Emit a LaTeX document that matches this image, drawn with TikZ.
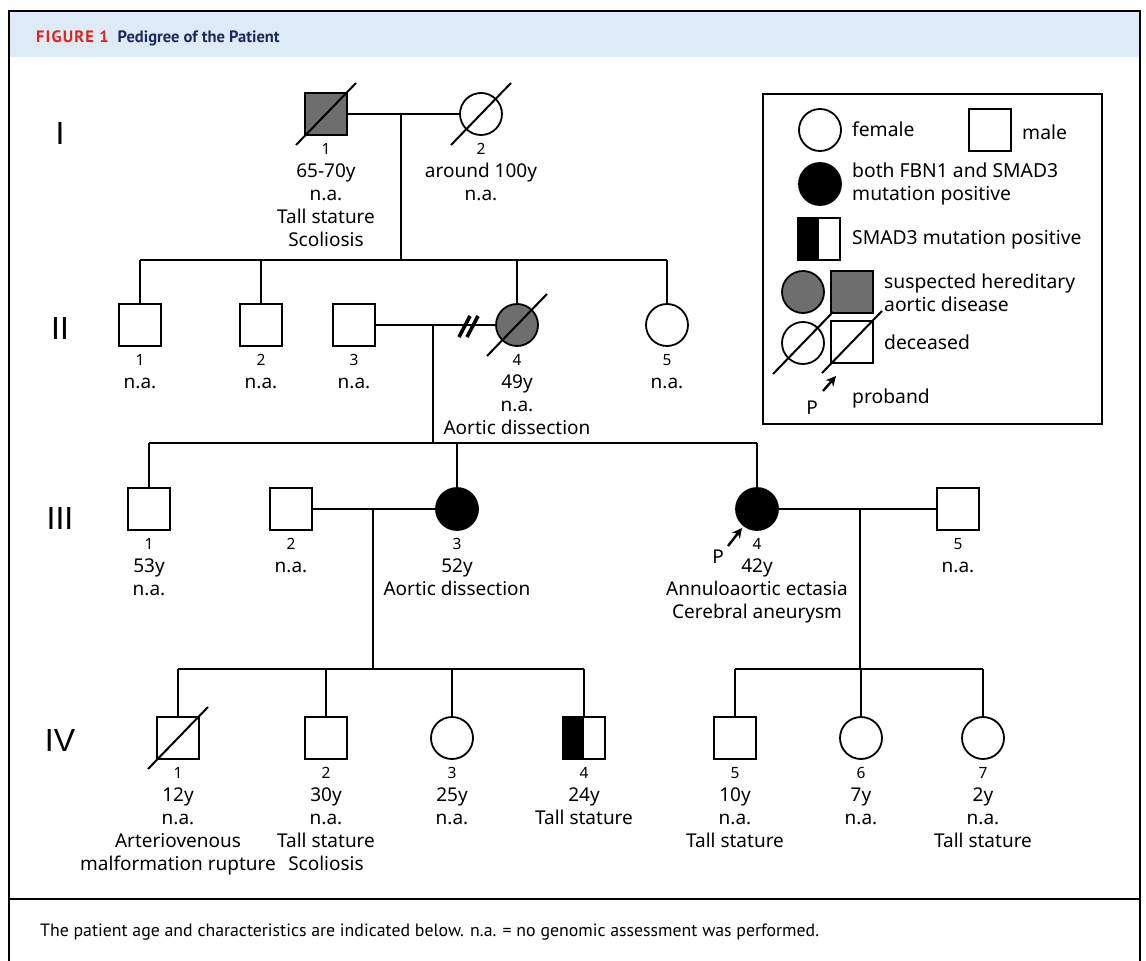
\documentclass[tikz,border=0pt]{standalone}
\usepackage{fontspec}
\setmainfont{Noto Sans}
\newfontfamily\headfont{PT Sans}
\newfontfamily\capfont{PT Sans}
\newfontfamily\genfont{Liberation Sans}
\usetikzlibrary{positioning,arrows.meta}
\definecolor{suspgray}{HTML}{6E6E6E}
\definecolor{headblue}{HTML}{DEEAF6}
\definecolor{figred}{HTML}{E2231A}
\definecolor{navy}{HTML}{1B2A5C}
\newcommand{\deceased}[1]{\draw[line width=2pt] ([shift={(-30,31)}]#1.center) -- ([shift={(30,-31)}]#1.center);}
\newcommand{\info}[3]{\node[info, below=7pt of #1] (#1-info) {{\fontsize{15.5}{15}\selectfont #2}\\#3};}
\tikzset{
  male/.style={draw, rectangle, minimum size=42pt, inner sep=0pt, line width=1.8pt},
  female/.style={draw, circle, minimum size=42pt, inner sep=0pt, line width=1.8pt},
  affected/.style={fill=black},
  suspected/.style={fill=suspgray},
  smad/.style={path picture={\fill[black] (path picture bounding box.north west) rectangle (path picture bounding box.south);}},
  line/.style={line width=2.2pt},
  info/.style={align=center, inner sep=0pt, font=\fontsize{19}{23}\selectfont},
  gen/.style={font=\genfont\fontsize{32}{32}\selectfont},
  legtext/.style={anchor=west, align=left, inner sep=0pt, font=\fontsize{19.3}{23}\selectfont},
  proband/.style={line width=2.4pt, -{Stealth[length=10pt,width=10pt]}}
}
\begin{document}
\begin{tikzpicture}[x=1pt, y=-1pt]
\useasboundingbox (0,0) rectangle (1146,961);
\fill[white] (0,0) rectangle (1146,961);
\fill[headblue] (10,12) rectangle (1139,57);
\draw[line width=2pt] (9,961) -- (9,11) -- (1140,11) -- (1140,961);
\draw[line width=2pt] (9,899) -- (1140,899);
\node[anchor=base west, inner sep=0pt, font=\headfont\bfseries\fontsize{16.5}{18}\selectfont] (title) at (36,42)
  {{\color{figred}\addfontfeature{LetterSpace=7}FIGURE 1}\hspace{9pt}{\color{navy}Pedigree of the Patient}};
\node[anchor=base west, inner sep=0pt, font=\capfont\fontsize{17.8}{20}\selectfont] (caption) at (40,936)
  {The patient age and characteristics are indicated below. n.a. = no genomic assessment was performed.};

\node[gen] (g1) at (60,133) {I};
\node[gen] (g2) at (60,328) {II};
\node[gen] (g3) at (60,518) {III};
\node[gen] (g4) at (60,740) {IV};

\node[male, suspected] (i1) at (326,114) {};
\node[female] (i2) at (481,114) {};
\deceased{i1}
\deceased{i2}
\coordinate (m1) at (401,114);
\coordinate (s2) at (401,260);
\draw[line] (i1) -- (i2);
\draw[line] (m1) -- (s2);
\info{i1}{1}{65-70y\\n.a.\\Tall stature\\Scoliosis}
\info{i2}{2}{around 100y\\n.a.}

\node[male] (ii1) at (140,325) {};
\node[male] (ii2) at (261,325) {};
\node[male] (ii3) at (354,325) {};
\node[female, suspected] (ii4) at (517,325) {};
\node[female] (ii5) at (667,325) {};
\deceased{ii4}
\draw[line] (ii1 |- s2) -- (ii5 |- s2);
\foreach \c in {ii1,ii2,ii4,ii5}
  \draw[line] (\c) -- (\c |- s2);
\coordinate (m2) at (433,325);
\coordinate (s3) at (433,443);
\draw[line] (ii3) -- (ii4);
\draw[line width=3.6pt] ([shift={(26,12)}]m2) -- ([shift={(37,-9)}]m2)
  ([shift={(34,12)}]m2) -- ([shift={(45,-9)}]m2);
\draw[line] (m2) -- (s3);
\info{ii1}{1}{n.a.}
\info{ii2}{2}{n.a.}
\info{ii3}{3}{n.a.}
\info{ii4}{4}{49y\\n.a.\\Aortic dissection}
\info{ii5}{5}{n.a.}

\node[male] (iii1) at (149,509) {};
\node[male] (iii2) at (291,509) {};
\node[female, affected] (iii3) at (457,509) {};
\node[female, affected] (iii4) at (757,509) {};
\node[male] (iii5) at (958,509) {};
\draw[line] (iii1 |- s3) -- (iii4 |- s3);
\foreach \c in {iii1,iii3,iii4}
  \draw[line] (\c) -- (\c |- s3);
\draw[line] (iii2) -- (iii3);
\draw[line] (iii4) -- (iii5);
\coordinate (m3) at (373,509);
\coordinate (s4a) at (373,669);
\coordinate (m4) at (860,509);
\coordinate (s4b) at (860,669);
\draw[line] (m3) -- (s4a);
\draw[line] (m4) -- (s4b);
\info{iii1}{1}{53y\\n.a.}
\info{iii2}{2}{n.a.}
\info{iii3}{3}{52y\\Aortic dissection}
\info{iii4}{4}{42y\\Annuloaortic ectasia\\Cerebral aneurysm}
\info{iii5}{5}{n.a.}
\node[info] (p1) at ([shift={(-39,48)}]iii4.center) {P};
\draw[proband] ([shift={(-29,37)}]iii4.center) -- ([shift={(-15,19)}]iii4.center);

\node[male] (iv1) at (178,738) {};
\node[male] (iv2) at (326,738) {};
\node[female] (iv3) at (452,738) {};
\node[male, smad] (iv4) at (584,738) {};
\node[male] (iv5) at (735,738) {};
\node[female] (iv6) at (861,738) {};
\node[female] (iv7) at (983,738) {};
\deceased{iv1}
\draw[line] (iv1 |- s4a) -- (iv4 |- s4a);
\foreach \c in {iv1,iv2,iv3,iv4}
  \draw[line] (\c) -- (\c |- s4a);
\draw[line] (iv5 |- s4b) -- (iv7 |- s4b);
\foreach \c in {iv5,iv6,iv7}
  \draw[line] (\c) -- (\c |- s4b);
\info{iv1}{1}{12y\\n.a.\\Arteriovenous\\malformation rupture}
\info{iv2}{2}{30y\\n.a.\\Tall stature\\Scoliosis}
\info{iv3}{3}{25y\\n.a.}
\info{iv4}{4}{24y\\Tall stature}
\info{iv5}{5}{10y\\n.a.\\Tall stature}
\info{iv6}{6}{7y\\n.a.}
\info{iv7}{7}{2y\\n.a.\\Tall stature}

\node[draw, line width=1.6pt, anchor=north west, minimum width=339pt, minimum height=330pt, inner sep=0pt] (legend) at (762,93) {};
\node[female] (lf) at (820,130) {};
\node[legtext] (lft) at (852,129) {female};
\node[male] (lm) at (990,130) {};
\node[legtext] (lmt) at (1022,132) {male};
\node[female, affected] (la) at (820,184) {};
\node[legtext] (lat) at (852,184) {both FBN1 and SMAD3\\mutation positive};
\node[male, smad] (lh) at (819,239) {};
\node[legtext] (lht) at (852,240) {SMAD3 mutation positive};
\node[female, suspected] (ls1) at (803,292) {};
\node[male, suspected] (ls2) at (852,292) {};
\node[legtext] (lst) at (884,293) {suspected hereditary\\aortic disease};
\node[female] (ld1) at (803,343) {};
\node[male] (ld2) at (852,342) {};
\deceased{ld1}
\deceased{ld2}
\node[legtext] (ldt) at (884,342) {deceased};
\node[info] (lp) at (812,408) {P};
\draw[proband] ([shift={(11,-17)}]lp.center) -- ([shift={(24,-32)}]lp.center);
\node[legtext] (lpt) at (852,398) {proband};
\end{tikzpicture}
\end{document}
